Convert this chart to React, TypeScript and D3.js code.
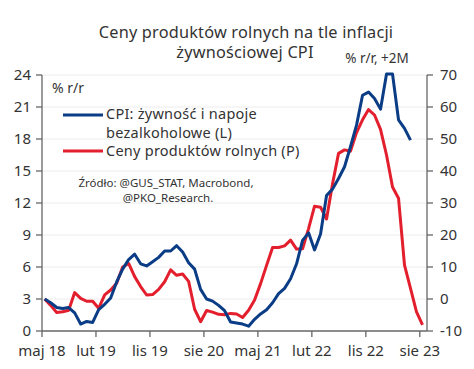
import React from "react";
import * as d3 from "d3";

// month index 0 = maj 18
const tickLabels = ["maj 18", "lut 19", "lis 19", "sie 20", "maj 21", "lut 22", "lis 22", "sie 23"];
const tickMonths = [0, 9, 18, 27, 36, 45, 54, 63];

const leftTicks = [0, 3, 6, 9, 12, 15, 18, 21, 24];
const rightTicks = [-10, 0, 10, 20, 30, 40, 50, 60, 70];

// CPI: żywność i napoje bezalkoholowe, % r/r (L)
const cpiFood = [
  3.0, 2.65, 2.2, 2.1, 2.2, 1.7, 0.65, 0.9, 0.8, 2.0, 2.5, 3.1, 4.6, 5.8, 6.7, 7.2,
  6.3, 6.1, 6.5, 6.9, 7.5, 7.5, 8.0, 7.4, 6.4, 5.8, 3.9, 3.0, 2.8, 2.4, 1.9, 0.85,
  0.75, 0.65, 0.45, 1.1, 1.6, 2.0, 2.65, 3.5, 4.0, 4.9, 6.3, 8.5, 9.2, 7.6, 9.1, 12.7,
  13.3, 14.3, 15.4, 17.3, 19.3, 22.1, 22.4, 21.8, 20.8, 24.1, 24.1, 19.8, 19.0, 17.9,
];

// Ceny produktów rolnych, % r/r, +2M (P)
const agriPrices = [
  0, -2, -4.2, -4, -3.5, 2.0, 0.2, -0.7, -0.7, -2.9, 1.3, 2.8, 4.9, 10, 11.1, 7,
  3.9, 1.25, 1.4, 3.0, 5.4, 9.1, 7.4, 7.8, 5.5, -3.2, -7.1, -3.6, -4.1, -4.8, -4.9, -4.5,
  -4.7, -5.8, -3.5, -0.3, 4.8, 10.5, 16.1, 16.1, 16.6, 18.4, 15.6, 15.7, 22, 29, 28.7, 25,
  36, 45.5, 46.6, 46.2, 52, 56, 59.2, 57.5, 53, 45, 35, 31.5, 10.6, 3.3, -4, -8.1,
];

const W = 474;
const H = 369;
const FONT = "'Noto Sans', sans-serif";
const TXT = "#333";
const AX = "#666";
const BLUE = "#0a3d85";
const RED = "#e31e2d";

export default function App() {
  const x = d3.scaleLinear().domain([0, 64.2]).range([42, 427]);
  const yL = d3.scaleLinear().domain([0, 24]).range([331, 75]);
  const yR = d3.scaleLinear().domain([-10, 70]).range([331, 75]);

  const lineL = d3
    .line<number>()
    .x((_, i) => x(i + 0.45))
    .y((d) => yL(d));
  const lineR = d3
    .line<number>()
    .x((_, i) => x(i + 0.45))
    .y((d) => yR(d));

  return (
    <svg
      width={W}
      height={H}
      style={{ position: "absolute", left: 0, top: 0, background: "#fff" }}
      fontFamily={FONT}
    >
      {/* title */}
      <text x={246} y={37.5} textAnchor="middle" fontSize={16.3} letterSpacing={0.2} fill={TXT}>
        Ceny produktów rolnych na tle inflacji
      </text>
      <text x={245} y={58} textAnchor="middle" fontSize={16.3} letterSpacing={0.2} fill={TXT}>
        żywnościowej CPI
      </text>
      <text x={377} y={63} textAnchor="middle" fontSize={13.5} fill={TXT}>
        % r/r, +2M
      </text>

      {/* grid */}
      {leftTicks.slice(1).map((t) => (
        <line key={t} x1={42} x2={427} y1={yL(t)} y2={yL(t)} stroke="#ececec" strokeWidth={1} />
      ))}

      {/* left axis */}
      <line x1={42} x2={42} y1={yL(24)} y2={yL(0)} stroke={AX} strokeWidth={1.3} />
      {leftTicks.map((t) => (
        <g key={t}>
          <line x1={36} x2={42} y1={yL(t)} y2={yL(t)} stroke={AX} strokeWidth={1.3} />
          <text x={31} y={yL(t) + 5} textAnchor="end" fontSize={15} fill={TXT}>
            {t}
          </text>
        </g>
      ))}

      {/* right axis */}
      <line x1={427} x2={427} y1={yR(70)} y2={yR(-10)} stroke={AX} strokeWidth={1.3} />
      {rightTicks.map((t) => (
        <g key={t}>
          <line x1={427} x2={433} y1={yR(t)} y2={yR(t)} stroke={AX} strokeWidth={1.3} />
          <text x={440} y={yR(t) + 5} textAnchor="start" fontSize={15} fill={TXT}>
            {t}
          </text>
        </g>
      ))}

      {/* x axis */}
      <line x1={42} x2={427} y1={331} y2={331} stroke={AX} strokeWidth={1.3} />
      {tickMonths.map((m, i) => (
        <g key={m}>
          <line x1={x(m)} x2={x(m)} y1={331} y2={337} stroke={AX} strokeWidth={1.3} />
          <text x={x(m)} y={356} textAnchor="middle" fontSize={15} fill={TXT}>
            {tickLabels[i]}
          </text>
        </g>
      ))}

      <text x={52} y={93} fontSize={14} fill={TXT}>
        % r/r
      </text>

      {/* series */}
      <path d={lineR(agriPrices) ?? ""} fill="none" stroke={RED} strokeWidth={3} strokeLinejoin="round" />
      <path d={lineL(cpiFood) ?? ""} fill="none" stroke={BLUE} strokeWidth={3} strokeLinejoin="round" />

      {/* legend */}
      <line x1={63} x2={103} y1={115} y2={115} stroke={BLUE} strokeWidth={3} />
      <text x={106} y={119} fontSize={14.5} letterSpacing={0.25} fill={TXT}>
        CPI: żywność i napoje
      </text>
      <text x={106} y={137.5} fontSize={14.5} letterSpacing={0.25} fill={TXT}>
        bezalkoholowe (L)
      </text>
      <line x1={63} x2={103} y1={151} y2={151} stroke={RED} strokeWidth={3} />
      <text x={106} y={156} fontSize={14.5} letterSpacing={0.25} fill={TXT}>
        Ceny produktów rolnych (P)
      </text>

      <text x={166} y={187} textAnchor="middle" fontSize={11.5} fill={TXT}>
        Źródło: @GUS_STAT, Macrobond,
      </text>
      <text x={168} y={202} textAnchor="middle" fontSize={11.5} fill={TXT}>
        @PKO_Research.
      </text>
    </svg>
  );
}
